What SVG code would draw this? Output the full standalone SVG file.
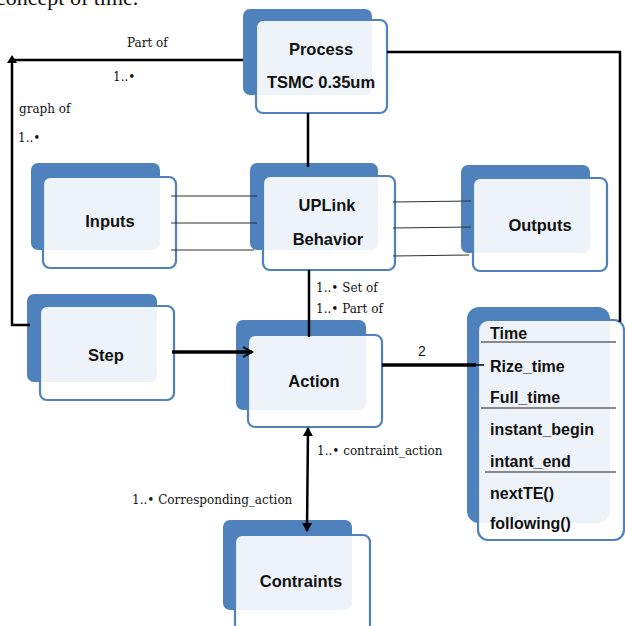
<svg xmlns="http://www.w3.org/2000/svg" width="625" height="626" viewBox="0 0 625 626">
<style>
.back{fill:#4f81bd}
.front{fill:#ffffff;fill-opacity:0.9;stroke:#4f81bd;stroke-width:2.2}
.nt{font-family:"Liberation Sans",sans-serif;font-weight:bold;font-size:16.5px;fill:#111;text-anchor:middle}
.at{font-family:"Liberation Sans",sans-serif;font-weight:bold;font-size:16px;fill:#111}
.lb{font-family:"DejaVu Serif",serif;font-size:12px;fill:#111}
.thick{stroke:#000;stroke-width:3.5;fill:none}
.med{stroke:#000;stroke-width:2.5;fill:none}
.thin{stroke:#333;stroke-width:1.2;fill:none}
.sep{stroke:#666;stroke-width:1.5}
</style>
<defs>
<marker id="open" markerWidth="12" markerHeight="12" refX="10" refY="6" orient="auto" markerUnits="userSpaceOnUse">
<path d="M1,1 L10,6 L1,11" fill="none" stroke="#000" stroke-width="2"/>
</marker>
<marker id="tri" markerWidth="10" markerHeight="10" refX="8" refY="5" orient="auto-start-reverse" markerUnits="userSpaceOnUse">
<path d="M0,0 L9,5 L0,10 Z" fill="#000"/>
</marker>
</defs>
<rect width="625" height="626" fill="#fff"/>
<text x="-4" y="5" font-family="Liberation Serif,serif" font-size="22" fill="#111">concept of time.</text>

<g id="process">
<rect class="back" x="243" y="9" width="129" height="86" rx="7"/>
<rect class="front" x="256" y="20" width="131" height="93" rx="7"/>
<text class="nt" x="321" y="55">Process</text>
<text class="nt" x="321" y="88">TSMC 0.35um</text>
</g>

<g id="inputs">
<rect class="back" x="31" y="163" width="129" height="87" rx="7"/>
<rect class="front" x="43" y="177" width="133" height="91" rx="7"/>
<text class="nt" x="110" y="227">Inputs</text>
</g>

<g id="uplink">
<rect class="back" x="250" y="163" width="128" height="87" rx="7"/>
<rect class="front" x="263" y="176" width="132" height="94" rx="7"/>
<text class="nt" x="327" y="211">UPLink</text>
<text class="nt" x="328" y="245">Behavior</text>
</g>

<g id="outputs">
<rect class="back" x="461" y="165" width="129" height="88" rx="7"/>
<rect class="front" x="473" y="178" width="134" height="93" rx="7"/>
<text class="nt" x="540" y="231">Outputs</text>
</g>

<g id="step">
<rect class="back" x="27" y="294" width="130" height="88" rx="7"/>
<rect class="front" x="40" y="306" width="134" height="94" rx="7"/>
<text class="nt" x="106" y="361">Step</text>
</g>

<g id="action">
<rect class="back" x="236" y="320" width="130" height="90" rx="7"/>
<rect class="front" x="248" y="335" width="134" height="92" rx="7"/>
<text class="nt" x="314" y="387">Action</text>
</g>

<g id="time">
<rect class="back" x="467" y="307" width="143" height="216" rx="12"/>
<rect class="front" x="478" y="320" width="146" height="220" rx="10"/>
<line class="sep" x1="481" y1="342" x2="616" y2="342"/>
<line class="sep" x1="481" y1="408" x2="616" y2="408"/>
<line class="sep" x1="485" y1="472" x2="616" y2="472"/>
<text class="at" x="490" y="339">Time</text>
<text class="at" x="490" y="372">Rize_time</text>
<text class="at" x="490" y="403">Full_time</text>
<text class="at" x="490" y="435">instant_begin</text>
<text class="at" x="490" y="467">intant_end</text>
<text class="at" x="490" y="499">nextTE()</text>
<text class="at" x="490" y="529">following()</text>
</g>

<g id="contraints">
<rect class="back" x="223" y="520" width="129" height="90" rx="7"/>
<rect class="front" x="235" y="535" width="135" height="100" rx="7"/>
<text class="nt" x="301" y="587">Contraints</text>
</g>

<g id="connectors">
<polyline class="med" points="243,60 12,60 12,325 30,325"/>
<path d="M7,63 L12,55 L17,63 Z" fill="#000"/>
<polyline class="med" points="387,52 620,52 620,322"/>
<line class="med" x1="308" y1="113" x2="308" y2="167"/>
<line class="thin" x1="171" y1="196" x2="257" y2="196"/>
<line class="thin" x1="171" y1="223" x2="257" y2="223"/>
<line class="thin" x1="171" y1="250" x2="254" y2="250"/>
<line class="thin" x1="393" y1="202" x2="471" y2="201"/>
<line class="thin" x1="393" y1="228" x2="471" y2="227"/>
<line class="thin" x1="393" y1="256" x2="469" y2="255"/>
<line class="med" x1="309" y1="270" x2="309" y2="337"/>
<line class="thick" x1="172" y1="352" x2="252" y2="352" marker-end="url(#open)"/>
<line class="thick" x1="382" y1="365" x2="476" y2="365"/>
<line x1="476" y1="365" x2="484" y2="365" stroke="#000" stroke-width="1.5"/>
<line class="med" x1="308" y1="428" x2="307" y2="531" marker-start="url(#tri)" marker-end="url(#tri)"/>
<text class="lb" x="127" y="47" font-size="15">Part of</text>
<text class="lb" x="113" y="81">1..•</text>
<text class="lb" x="19" y="113">graph of</text>
<text class="lb" x="18" y="142">1..•</text>
<text class="lb" x="316" y="292" font-size="11.5">1..• Set of</text>
<text class="lb" x="316" y="313" font-size="11.5">1..• Part of</text>
<text x="418" y="356" font-family="Liberation Sans,sans-serif" font-size="14" fill="#111">2</text>
<text class="lb" x="317" y="455">1..• contraint_action</text>
<text class="lb" x="132" y="504">1..•  Corresponding_action</text>
</g>
</svg>
